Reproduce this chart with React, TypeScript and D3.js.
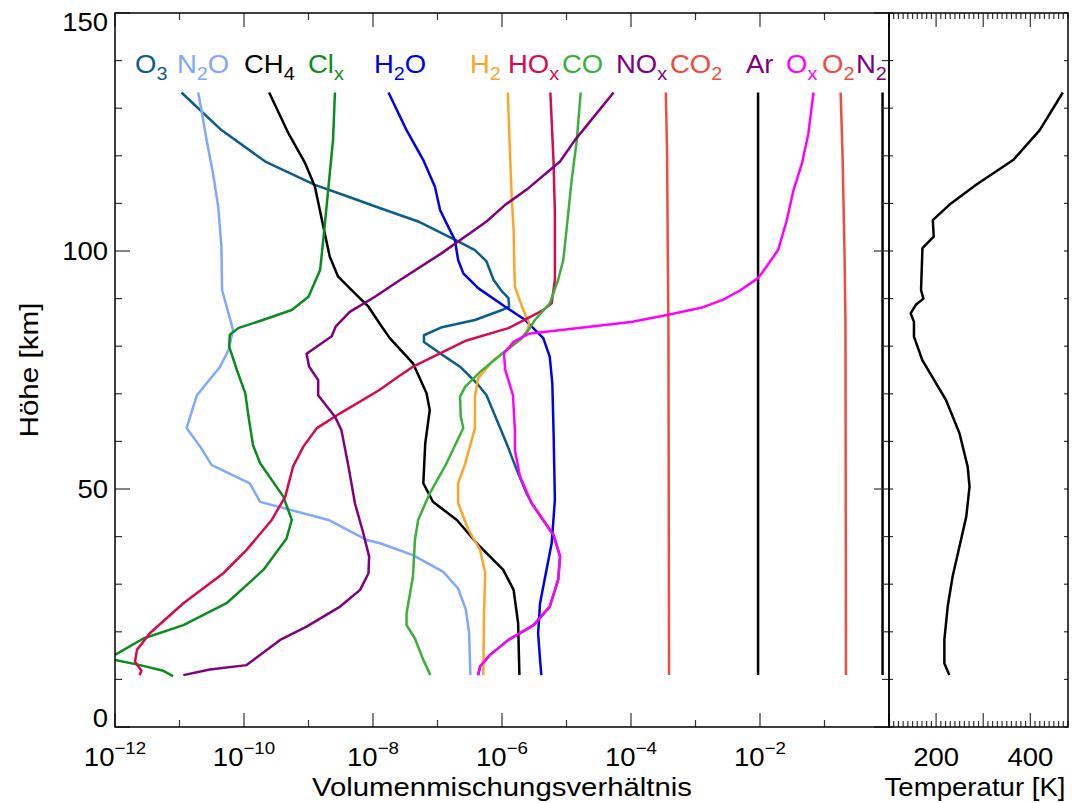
import React from 'react';
import * as d3 from 'd3';

const W = 1080;
const H = 803;
const FONT = '"Liberation Sans", Arial, Helvetica, sans-serif';

// plot boxes (px)
const main = { left: 115, right: 889, top: 13, bottom: 727 };
const side = { left: 889, right: 1068 };

// profiles: [altitude km, log10 of volume mixing ratio]
const o3 = [
  [133.3, -10.97], [125.4, -10.35], [118.8, -9.67], [113.9, -8.9], [111.4, -8.38], [109.2, -7.93],
  [106.2, -7.3], [102, -6.68], [100.2, -6.42], [97.8, -6.24], [93.9, -6.13], [91.5, -6.0],
  [90.1, -5.9], [88.3, -5.89], [87.6, -6.0], [85.5, -6.42], [84, -6.93], [82.3, -7.21],
  [80.9, -7.21], [78.5, -6.96], [75.7, -6.65], [72.2, -6.39], [69.7, -6.24], [64.5, -6.08],
  [59.6, -5.93], [54, -5.77], [49.1, -5.62], [47, -5.54], [40.3, -5.2], [35.8, -5.1],
  [30.9, -5.13], [25.3, -5.26], [21.4, -5.51], [18.3, -5.9], [15.1, -6.19], [12.7, -6.34], [10.9, -6.37],
];
const n2o = [
  [133.3, -10.71], [128.9, -10.65], [123.3, -10.58], [116.3, -10.48], [109.3, -10.4], [100.9, -10.35],
  [91.8, -10.34], [86.9, -10.24], [83.4, -10.17], [79.2, -10.24], [75.7, -10.37], [69.7, -10.73],
  [62.8, -10.89], [58.9, -10.68], [55, -10.5], [51.2, -9.91], [47.3, -9.75], [43.5, -8.69],
  [39.3, -8.1], [38.6, -7.89], [36.1, -7.38], [32.6, -6.91], [29.1, -6.68], [24.6, -6.56],
  [19.7, -6.51], [10.9, -6.49],
];
const ch4 = [
  [133.3, -9.61], [124.7, -9.31], [118.4, -9.05], [113.5, -8.9], [105.1, -8.77], [98.8, -8.67],
  [94.6, -8.54], [91.1, -8.28], [88.3, -8.07], [84.6, -7.89], [81.7, -7.74], [76.4, -7.38],
  [70.1, -7.17], [66.6, -7.12], [59.6, -7.19], [51.2, -7.22], [47.3, -7.07], [43.5, -6.7],
  [38.6, -6.39], [33, -5.98], [28.8, -5.82], [21.8, -5.75], [10.9, -5.73],
];
const clx = [
  [133.3, -8.59], [123.3, -8.62], [113.5, -8.69], [105.1, -8.75], [96, -8.82], [90.4, -9.0],
  [87.6, -9.26], [85.4, -9.73], [83.8, -10.09], [82.4, -10.22], [79.9, -10.23], [75, -10.11],
  [70.1, -9.98], [65.2, -9.93], [59.2, -9.86], [55.4, -9.75], [48.4, -9.39], [43.5, -9.26],
  [39.6, -9.34], [33, -9.7], [26, -10.27], [21.4, -10.94], [18.6, -11.56], [15.3, -11.98],
  [14.7, -12.2], [14.1, -12.0], [13, -11.61], [11.8, -11.25], [10.7, -11.1],
];
const h2o = [
  [133.3, -7.76], [125.4, -7.48], [119.1, -7.22], [113.5, -7.04], [108.6, -6.96], [105.8, -6.86],
  [102.3, -6.73], [98.1, -6.68], [95.3, -6.6], [92.2, -6.37], [88.3, -5.95], [85.5, -5.64],
  [81.7, -5.36], [77.8, -5.26], [72.2, -5.22], [61.7, -5.2], [47.7, -5.18], [38.6, -5.23],
  [31.6, -5.33], [26, -5.41], [19.7, -5.44], [14.1, -5.41], [10.9, -5.39],
];
const h2 = [
  [133.3, -5.91], [121.9, -5.88], [111.4, -5.85], [104.4, -5.82], [97.4, -5.81], [92.5, -5.8],
  [88.3, -5.69], [84.8, -5.58], [83.4, -5.6], [81.3, -5.72], [77.1, -6.13], [73.3, -6.37],
  [69.4, -6.42], [62.8, -6.42], [55.4, -6.57], [51.2, -6.68], [47, -6.68], [41.4, -6.52],
  [37.2, -6.34], [32.3, -6.26], [23.2, -6.28], [10.9, -6.29],
];
const hox = [
  [133.3, -5.25], [118.4, -5.2], [107.9, -5.18], [93.9, -5.18], [89, -5.23], [87.6, -5.36],
  [83.8, -5.9], [81.2, -6.55], [75.7, -7.38], [73.7, -7.6], [70.8, -7.9], [65.9, -8.51],
  [62.8, -8.87], [58.9, -9.08], [54.7, -9.24], [48.4, -9.36], [43.5, -9.57], [37.2, -9.96],
  [32.3, -10.32], [26, -10.94], [19.7, -11.46], [16.2, -11.66], [13.7, -11.69], [11.8, -11.59], [10.9, -11.62],
];
const co = [
  [133.3, -4.78], [123.3, -4.84], [114.9, -4.92], [104.4, -5.0], [98.1, -5.05], [93.9, -5.13],
  [89, -5.26], [85.5, -5.49], [83.8, -5.57], [81.7, -5.69], [79.2, -5.93], [74.6, -6.34],
  [71.5, -6.57], [69.4, -6.65], [65.2, -6.64], [62.8, -6.6], [55.4, -6.86], [49.1, -7.12],
  [43.5, -7.3], [39.3, -7.35], [31.6, -7.38], [23.9, -7.48], [21.4, -7.48], [18.6, -7.35],
  [14.1, -7.22], [10.9, -7.11],
];
const nox = [
  [133.3, -4.27], [123.3, -4.87], [118.8, -5.1], [113.2, -5.59], [109.7, -5.95], [106.2, -6.24],
  [99.5, -6.94], [93.9, -7.58], [90.4, -7.97], [87.2, -8.36], [84.1, -8.58], [82.1, -8.64],
  [78.4, -9.03], [75.7, -8.99], [72.9, -8.85], [69.7, -8.85], [65.2, -8.59], [62.4, -8.49],
  [54.7, -8.38], [47, -8.28], [40.7, -8.15], [35.8, -8.06], [32.3, -8.07], [28.8, -8.2],
  [25.3, -8.51], [21.1, -9.03], [18.3, -9.44], [13, -9.96], [12.1, -10.53], [10.9, -10.94],
];
const co2 = [[133.3, -3.46], [120, -3.44], [100, -3.43], [85, -3.42], [10.9, -3.41]];
const ar = [[133.3, -2.03], [10.9, -2.03]];
const ox = [
  [133.3, -1.17], [124.7, -1.25], [118.4, -1.35], [112.8, -1.48], [106.2, -1.59], [100.2, -1.72],
  [96.7, -1.9], [94.3, -2.03], [91.7, -2.31], [89.8, -2.57], [88.2, -2.88], [86.6, -3.42],
  [85.1, -4.0], [82.6, -5.59], [80.9, -5.82], [78.5, -5.97], [75, -5.95], [69.7, -5.83],
  [62.4, -5.8], [58.2, -5.8], [52.6, -5.72], [47, -5.54], [40.3, -5.2], [35.8, -5.1],
  [30.9, -5.13], [25.3, -5.26], [21.4, -5.51], [18.3, -5.9], [15.1, -6.19], [12.7, -6.34], [10.9, -6.37],
];
const o2 = [[133.3, -0.75], [120, -0.72], [100, -0.69], [85, -0.675], [10.9, -0.667]];
const n2 = [[133.3, -0.1], [10.9, -0.1]];

// temperature profile: [altitude km, K]
const temperature = [
  [133.3, 469], [125.4, 420], [119.1, 363.5], [113.9, 285], [109.7, 228], [106.5, 193],
  [103, 195], [100.6, 171], [91.8, 168], [90, 173], [88.7, 157], [86.9, 146], [85.1, 153],
  [82, 153], [77, 171], [68.7, 221], [61.7, 249.6], [54.7, 267], [50.5, 271], [44.2, 264],
  [37.9, 249.6], [31.6, 235], [25.3, 224.6], [18.3, 217.5], [13.4, 217.5], [10.9, 228],
];

// label pieces: [text, isSubscript]
const species = [
  { parts: [['O', 0], ['3', 1]], color: '#0b5d8b', data: o3 },
  { parts: [['N', 0], ['2', 1], ['O', 0]], color: '#80a8ff', data: n2o },
  { parts: [['CH', 0], ['4', 1]], color: '#000000', data: ch4 },
  { parts: [['Cl', 0], ['x', 1]], color: '#0a8c1e', data: clx },
  { parts: [['H', 0], ['2', 1], ['O', 0]], color: '#0000f0', data: h2o },
  { parts: [['H', 0], ['2', 1]], color: '#ffa526', data: h2 },
  { parts: [['HO', 0], ['x', 1]], color: '#d80a4e', data: hox },
  { parts: [['CO', 0]], color: '#3caf3c', data: co },
  { parts: [['NO', 0], ['x', 1]], color: '#800080', data: nox },
  { parts: [['CO', 0], ['2', 1]], color: '#f24a3c', data: co2 },
  { parts: [['Ar', 0]], color: '#000000', labelColor: '#800080', data: ar },
  { parts: [['O', 0], ['x', 1]], color: '#ff00ff', data: ox },
  { parts: [['O', 0], ['2', 1]], color: '#f24a3c', data: o2 },
  { parts: [['N', 0], ['2', 1]], color: '#000000', labelColor: '#800080', data: n2 },
];
// left edge of each label (px), same order as species
const labelX = [136, 178, 245, 309, 375, 471, 509, 563, 617, 671, 747, 787, 823, 857];

const vmrTickExps = d3.range(-12, 1);
const vmrLabelExps = [-12, -10, -8, -6, -4, -2];
const altTicks = d3.range(0, 151, 10);
const altLabels = [0, 50, 100, 150];
const tempTicks = d3.range(100, 481, 10);
const tempLabels = [200, 400];

const TICK = '#333';

function Label({ x, y, parts, fill, size = 25, sub = 18, shift = 7, anchor = 'start' }: any) {
  let cur = 0;
  return (
    <text transform={`translate(${x},${y}) scale(1.1,1)`} fill={fill} fontSize={size} textAnchor={anchor}>
      {parts.map(([t, s]: any, i: number) => {
        const dy = s ? shift - cur : -cur;
        cur = s ? shift : 0;
        return (
          <tspan key={i} dy={dy} fontSize={s ? sub : size}>{t}</tspan>
        );
      })}
    </text>
  );
}

export default function App() {
  const x = d3.scaleLog().domain([1e-12, 1]).range([main.left, main.right]);
  const y = d3.scaleLinear().domain([0, 150]).range([main.bottom, main.top]);
  const t = d3.scaleLinear().domain([100, 480]).range([side.left, side.right]);

  const line = d3.line<number[]>().x(d => x(Math.pow(10, d[1]))).y(d => y(d[0]));
  const tline = d3.line<number[]>().x(d => t(d[1])).y(d => y(d[0]));

  return (
    <svg width={W} height={H} style={{ position: 'absolute', left: 0, top: 0, background: '#fff' }} fontFamily={FONT}>
      <defs>
        <clipPath id="mainClip">
          <rect x={main.left} y={0} width={main.right - main.left} height={main.bottom} />
        </clipPath>
      </defs>

      {/* profiles */}
      <g clipPath="url(#mainClip)" fill="none" strokeWidth={2.5} strokeLinejoin="round">
        {species.map((s, i) => (
          <path key={i} d={line(s.data) || ''} stroke={s.color} />
        ))}
      </g>
      <path d={tline(temperature) || ''} fill="none" stroke="#000" strokeWidth={2.5} strokeLinejoin="round" />

      {/* main panel ticks */}
      <g stroke={TICK} strokeWidth={1.2}>
        {vmrTickExps.map(e => {
          const len = e % 2 === 0 ? 14 : 7;
          const px = x(Math.pow(10, e));
          return (
            <g key={e}>
              <line x1={px} x2={px} y1={main.bottom} y2={main.bottom - len} />
              <line x1={px} x2={px} y1={main.top} y2={main.top + len} />
            </g>
          );
        })}
        {altTicks.map(a => {
          const len = a % 50 === 0 ? 15 : 7;
          return (
            <g key={a}>
              <line x1={main.left} x2={main.left + len} y1={y(a)} y2={y(a)} />
              <line x1={main.right} x2={main.right - len} y1={y(a)} y2={y(a)} />
              <line x1={side.left} x2={side.left + 4} y1={y(a)} y2={y(a)} />
              <line x1={side.right} x2={side.right - 4} y1={y(a)} y2={y(a)} />
            </g>
          );
        })}
        {tempTicks.map(k => {
          const len = k % 100 === 0 ? 14 : 6;
          return (
            <g key={k}>
              <line x1={t(k)} x2={t(k)} y1={main.bottom} y2={main.bottom - len} />
              <line x1={t(k)} x2={t(k)} y1={main.top} y2={main.top + len} />
            </g>
          );
        })}
      </g>

      {/* frames */}
      <g fill="none" stroke="#000" strokeWidth={1.5}>
        <rect x={main.left} y={main.top} width={main.right - main.left} height={main.bottom - main.top} />
        <rect x={side.left} y={main.top} width={side.right - side.left} height={main.bottom - main.top} />
      </g>

      {/* tick labels */}
      {vmrLabelExps.map(e => (
        <Label key={e} x={x(Math.pow(10, e))} y={766} anchor="middle" fill="#000"
          parts={[['10', 0], ['\u2212' + Math.abs(e), 1]]} sub={17} shift={-12} />
      ))}
      {tempLabels.map(k => (
        <Label key={k} x={t(k)} y={766} anchor="middle" fill="#000" parts={[[String(k), 0]]} />
      ))}
      {altLabels.map(a => {
        const off = a === 0 ? -9 : a === 150 ? 9 : 0;
        return (
          <Label key={a} x={108} y={y(a) + off + 9} anchor="end" fill="#000" parts={[[String(a), 0]]} />
        );
      })}

      {/* axis titles */}
      <text x={502} y={796} fontSize={25} textAnchor="middle" textLength={380} lengthAdjust="spacingAndGlyphs">
        Volumenmischungsverhältnis
      </text>
      <text x={975} y={796} fontSize={25} textAnchor="middle" textLength={181} lengthAdjust="spacingAndGlyphs">
        Temperatur [K]
      </text>
      <text transform={`translate(38,${(main.top + main.bottom) / 2}) rotate(-90)`} fontSize={25}
        textAnchor="middle" textLength={135} lengthAdjust="spacingAndGlyphs">
        Höhe [km]
      </text>

      {/* species labels */}
      {species.map((s, i) => (
        <Label key={i} x={labelX[i] - 1} y={73} parts={s.parts} fill={s.labelColor || s.color} />
      ))}
    </svg>
  );
}
